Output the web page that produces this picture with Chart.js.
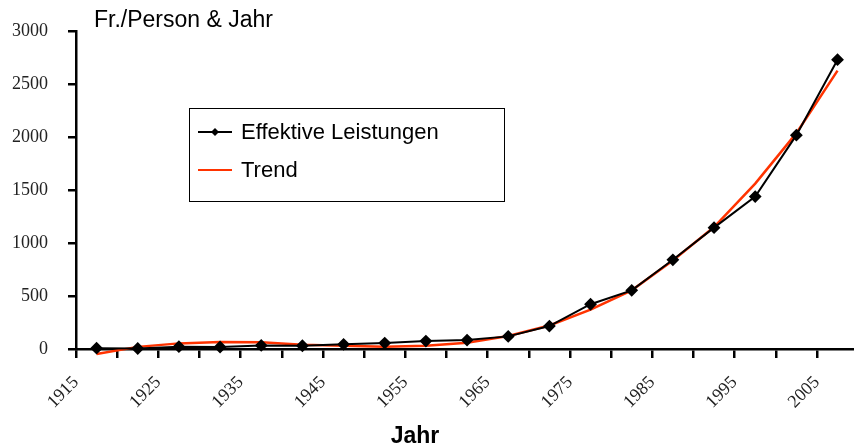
<!DOCTYPE html>
<html>
<head>
<meta charset="utf-8">
<script src="https://cdn.jsdelivr.net/npm/chart.js@4/dist/chart.umd.min.js"></script>
<style>
  html, body { margin: 0; padding: 0; background: #fff; }
  #wrap { width: 854px; height: 448px; position: relative; }
</style>
</head>
<body>
<div id="wrap"><canvas id="chart" width="854" height="448"></canvas></div>
<script>
// Jahr (mid of 5-year period)
const jahre = [1917.5, 1922.5, 1927.5, 1932.5, 1937.5, 1942.5, 1947.5, 1952.5, 1957.5, 1962.5,
               1967.5, 1972.5, 1977.5, 1982.5, 1987.5, 1992.5, 1997.5, 2002.5, 2007.5];
const leistungen = [8, 5, 22, 19, 34, 31, 44, 56, 75, 84, 119, 216, 422, 553, 841, 1144, 1437, 2016, 2728];
const trend = [-47, 20, 53, 66, 63, 40, 30, 22, 30, 60, 122, 222, 372, 553, 835, 1150, 1559, 2035, 2625];

const yTitle = "Fr./Person & Jahr";
const xTitle = "Jahr";
const serif = "'Liberation Serif', 'DejaVu Serif', serif";
const sans = "'Liberation Sans', Arial, sans-serif";

function xyzip(xs, ys) {
    return xs.map((x, i) => ({x: x, y: ys[i]}));
}

// titles + boxed legend inside the plot
const extras = {
    id: 'extras',
    afterDraw(chart) {
        const ctx = chart.ctx;
        const ca = chart.chartArea;
        ctx.save();
        ctx.fillStyle = '#000';
        ctx.textBaseline = 'alphabetic';
        ctx.textAlign = 'left';
        ctx.font = '23px ' + sans;
        ctx.fillText(yTitle, ca.left + 18, 27);

        ctx.font = 'bold 23px ' + sans;
        ctx.textAlign = 'center';
        ctx.fillText(xTitle, 415, 443);

        // legend
        const bx = ca.left + 113, by = 108, bw = 315, bh = 93;
        ctx.lineWidth = 1;
        ctx.strokeStyle = '#000';
        ctx.strokeRect(bx + 0.5, by + 0.5, bw, bh);
        ctx.textAlign = 'left';
        ctx.textBaseline = 'middle';
        ctx.font = '22px ' + sans;
        const rows = [132, 170];
        chart.data.datasets.forEach((ds, i) => {
            const yy = rows[i];
            ctx.strokeStyle = ds.borderColor;
            ctx.lineWidth = 2;
            ctx.beginPath();
            ctx.moveTo(bx + 9, yy);
            ctx.lineTo(bx + 43, yy);
            ctx.stroke();
            if (ds.pointRadius > 0) {
                ctx.fillStyle = ds.pointBackgroundColor;
                ctx.beginPath();
                ctx.moveTo(bx + 26, yy - 4);
                ctx.lineTo(bx + 30, yy);
                ctx.lineTo(bx + 26, yy + 4);
                ctx.lineTo(bx + 22, yy);
                ctx.closePath();
                ctx.fill();
            }
            ctx.fillStyle = '#000';
            ctx.fillText(ds.label, bx + 52, yy + 1);
        });
        ctx.restore();
    }
};

new Chart(document.getElementById('chart'), {
    type: 'line',
    data: {
        datasets: [{
            label: 'Effektive Leistungen',
            data: xyzip(jahre, leistungen),
            borderColor: '#000',
            backgroundColor: '#000',
            pointBackgroundColor: '#000',
            pointBorderColor: '#000',
            pointStyle: 'rectRot',
            pointRadius: 5,
            borderWidth: 2,
            tension: 0,
            fill: false,
            clip: false,
            order: 1
        }, {
            label: 'Trend',
            data: xyzip(jahre, trend),
            borderColor: '#ff3300',
            backgroundColor: '#ff3300',
            pointRadius: 0,
            borderWidth: 2.5,
            tension: 0,
            fill: false,
            clip: false,
            order: 2
        }]
    },
    options: {
        responsive: false,
        animation: false,
        maintainAspectRatio: false,
        layout: { autoPadding: false, padding: { top: 29, left: 0, right: 0, bottom: 0 } },
        plugins: {
            legend: { display: false },
            tooltip: { enabled: false }
        },
        scales: {
            x: {
                type: 'linear',
                min: 1915,
                max: 2009.5,
                afterBuildTicks: (axis) => {
                    axis.ticks = axis.ticks.filter(t => Math.abs((t.value - 1915) % 5) < 1e-6);
                },
                afterFit: (scale) => { scale.height = 99; },
                border: { display: true, color: '#000', width: 2.5 },
                grid: { drawOnChartArea: false, drawTicks: true, tickLength: 9, color: '#000', lineWidth: 2.5 },
                ticks: {
                    stepSize: 5,
                    autoSkip: false,
                    minRotation: 45,
                    maxRotation: 45,
                    padding: 14,
                    color: '#222',
                    font: { family: serif, size: 18 },
                    callback: (v) => (Math.round(v) % 10 === 5 ? String(Math.round(v)) : '')
                }
            },
            y: {
                min: 0,
                max: 3000,
                afterFit: (scale) => { scale.width = 76; },
                border: { display: true, color: '#000', width: 2.5 },
                grid: { drawOnChartArea: false, drawTicks: true, tickLength: 8, color: '#000', lineWidth: 2.5 },
                ticks: {
                    stepSize: 500,
                    padding: 20,
                    color: '#222',
                    font: { family: serif, size: 18 },
                    callback: (v) => String(v)
                }
            }
        }
    },
    plugins: [extras]
});
</script>
</body>
</html>
